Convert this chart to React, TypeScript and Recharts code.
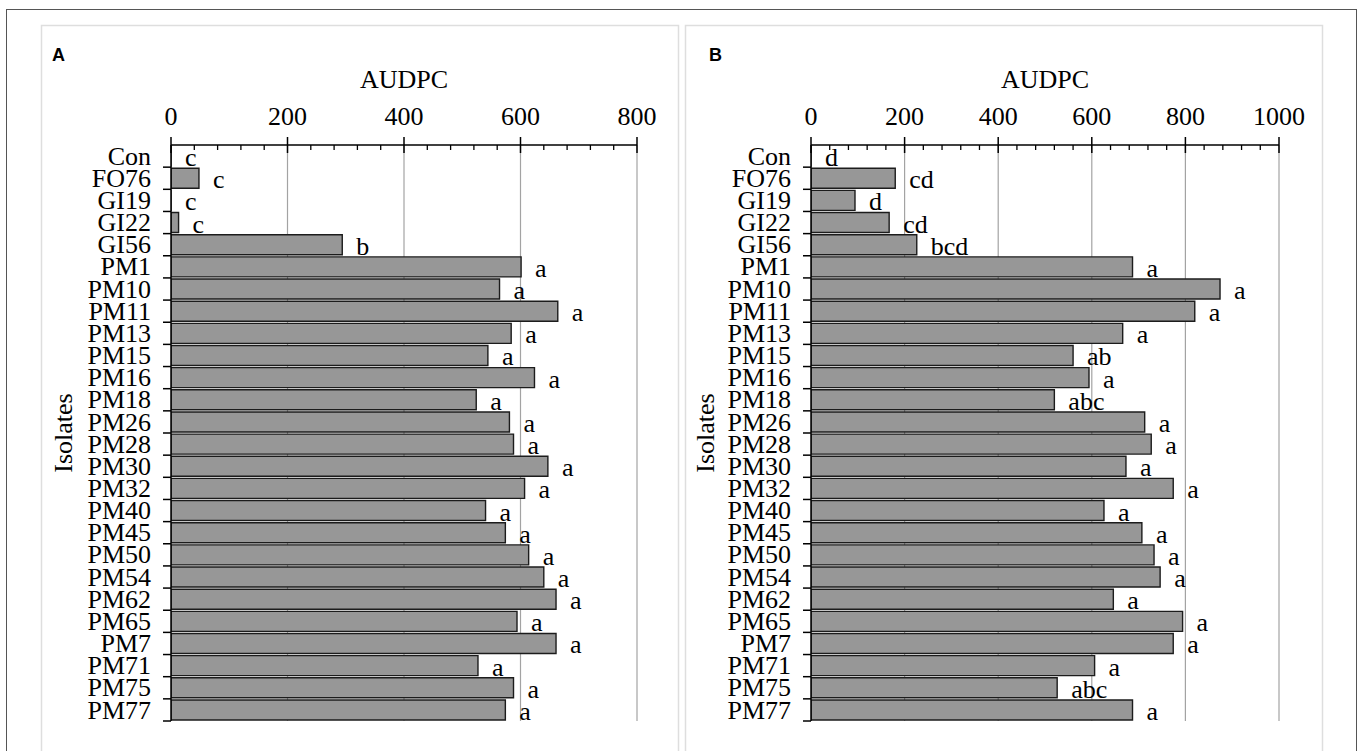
import React from 'react';
import { BarChart, Bar, XAxis, YAxis, CartesianGrid, LabelList } from 'recharts';

const isolates = ['Con', 'FO76', 'GI19', 'GI22', 'GI56', 'PM1', 'PM10', 'PM11', 'PM13', 'PM15', 'PM16', 'PM18', 'PM26', 'PM28', 'PM30', 'PM32', 'PM40', 'PM45', 'PM50', 'PM54', 'PM62', 'PM65', 'PM7', 'PM71', 'PM75', 'PM77'];

const audpcA = [0, 48, 0, 13, 294, 601, 564, 664, 584, 544, 624, 524, 581, 588, 647, 607, 540, 574, 614, 640, 661, 594, 661, 527, 588, 574];
const lettersA = ['c', 'c', 'c', 'c', 'b', 'a', 'a', 'a', 'a', 'a', 'a', 'a', 'a', 'a', 'a', 'a', 'a', 'a', 'a', 'a', 'a', 'a', 'a', 'a', 'a', 'a'];

const audpcB = [0, 180, 94, 167, 226, 687, 874, 820, 666, 560, 594, 520, 713, 727, 673, 774, 626, 707, 733, 746, 646, 794, 774, 606, 526, 687];
const lettersB = ['d', 'cd', 'd', 'cd', 'bcd', 'a', 'a', 'a', 'a', 'ab', 'a', 'abc', 'a', 'a', 'a', 'a', 'a', 'a', 'a', 'a', 'a', 'a', 'a', 'a', 'abc', 'a'];

const ticksA = [0, 40, 80, 120, 160, 200, 240, 280, 320, 360, 400, 440, 480, 520, 560, 600, 640, 680, 720, 760, 800];
const majorA = [0, 200, 400, 600, 800];
const ticksB = [0, 40, 80, 120, 160, 200, 240, 280, 320, 360, 400, 440, 480, 520, 560, 600, 640, 680, 720, 760, 800, 840, 880, 920, 960, 1000];
const majorB = [0, 200, 400, 600, 800, 1000];

const FONT = '"Liberation Serif", "Times New Roman", serif';
const FS = 26;
const CHART_H = 751;
const PLOT_TOP = 145;
const PLOT_BOTTOM = 721;
const BAND = (PLOT_BOTTOM - PLOT_TOP) / isolates.length;
const XAXIS_H = 40;

const dataA = isolates.map((name, i) => ({ name, v: audpcA[i], sig: lettersA[i] }));
const dataB = isolates.map((name, i) => ({ name, v: audpcB[i], sig: lettersB[i] }));

const CatTick = (props: any) => {
  const { x, y, payload } = props;
  return (
    <g>
      <line x1={x - 8} x2={x} y1={y + BAND / 2} y2={y + BAND / 2} stroke="#000" strokeWidth={1.5} />
      <text x={x - 20} y={y} dy="0.33em" textAnchor="end" fontSize={FS} fontFamily={FONT} fill="#000">
        {payload.value}
      </text>
    </g>
  );
};

const makeNumTick = (majors: number[]) => (props: any) => {
  const { x, y, payload } = props;
  const isMajor = majors.includes(payload.value);
  return (
    <g>
      {isMajor ? (
        <line x1={x} x2={x} y1={y - 8} y2={y + 8} stroke="#000" strokeWidth={1.5} />
      ) : (
        <line x1={x} x2={x} y1={y} y2={y + 5} stroke="#000" strokeWidth={1.3} />
      )}
      {isMajor && (
        <text x={x} y={y - 20} textAnchor="middle" fontSize={FS} fontFamily={FONT} fill="#000">
          {payload.value}
        </text>
      )}
    </g>
  );
};

const SigLabel = (props: any) => {
  const { x, y, width, height, value } = props;
  return (
    <text x={Number(x) + Number(width) + 14} y={Number(y) + Number(height)} textAnchor="start" fontSize={FS} fontFamily={FONT} fill="#000">
      {value}
    </text>
  );
};

type PanelProps = {
  data: any[];
  ticks: number[];
  majors: number[];
  max: number;
  width: number;
  plotLeft: number;
  plotRight: number;
};

const Panel = ({ data, ticks, majors, max, width, plotLeft, plotRight }: PanelProps) => (
  <BarChart
    width={width}
    height={CHART_H}
    data={data}
    layout="vertical"
    barCategoryGap="5%"
    margin={{ top: PLOT_TOP - XAXIS_H, bottom: CHART_H - PLOT_BOTTOM, left: 0, right: width - plotRight }}
  >
    <CartesianGrid horizontal={false} vertical={true} verticalValues={majors.filter((m) => m > 0)} stroke="#a3a3a3" strokeWidth={1.2} />
    <XAxis
      type="number"
      orientation="top"
      domain={[0, max]}
      ticks={ticks}
      interval={0}
      height={XAXIS_H}
      tickSize={0}
      tickMargin={0}
      tickLine={false}
      axisLine={{ stroke: '#000', strokeWidth: 1.5 }}
      tick={makeNumTick(majors)}
      allowDataOverflow
    />
    <YAxis
      type="category"
      dataKey="name"
      width={plotLeft}
      interval={0}
      tickSize={0}
      tickMargin={0}
      tickLine={false}
      axisLine={{ stroke: '#000', strokeWidth: 1.5 }}
      tick={<CatTick />}
    />
    <Bar dataKey="v" fill="#979797" stroke="#1c1c1c" strokeWidth={1.4} minPointSize={0.01} isAnimationActive={false}>
      <LabelList dataKey="sig" content={<SigLabel />} />
    </Bar>
  </BarChart>
);

export default function App() {
  return (
    <div style={{ position: 'absolute', left: 0, top: 0, width: 1362, height: 751, background: '#fff', overflow: 'hidden' }}>
      <svg width={1362} height={751} style={{ position: 'absolute', left: 0, top: 0 }}>
        <rect x={6.5} y={9.5} width={1350} height={780} fill="none" stroke="#555" strokeWidth={1} />
        <rect x={41.5} y={25.5} width={637} height={780} fill="none" stroke="#dedede" strokeWidth={1.5} />
        <rect x={685.5} y={25.5} width={637} height={780} fill="none" stroke="#dedede" strokeWidth={1.5} />
        <text x={52} y={61} fontFamily='"Liberation Sans", Arial, sans-serif' fontWeight="bold" fontSize={18} fill="#000">A</text>
        <text x={709} y={61} fontFamily='"Liberation Sans", Arial, sans-serif' fontWeight="bold" fontSize={18} fill="#000">B</text>
        <text x={404} y={88} textAnchor="middle" fontFamily={FONT} fontSize={FS} fill="#000">AUDPC</text>
        <text x={1045} y={88} textAnchor="middle" fontFamily={FONT} fontSize={FS} fill="#000">AUDPC</text>
        <text x={0} y={0} transform="translate(72,433) rotate(-90)" textAnchor="middle" fontFamily={FONT} fontSize={FS} fill="#000">Isolates</text>
        <text x={0} y={0} transform="translate(714,433) rotate(-90)" textAnchor="middle" fontFamily={FONT} fontSize={FS} fill="#000">Isolates</text>
      </svg>
      <div style={{ position: 'absolute', left: 0, top: 0 }}>
        <Panel data={dataA} ticks={ticksA} majors={majorA} max={800} width={680} plotLeft={171} plotRight={637} />
      </div>
      <div style={{ position: 'absolute', left: 680, top: 0 }}>
        <Panel data={dataB} ticks={ticksB} majors={majorB} max={1000} width={682} plotLeft={131} plotRight={599} />
      </div>
    </div>
  );
}
